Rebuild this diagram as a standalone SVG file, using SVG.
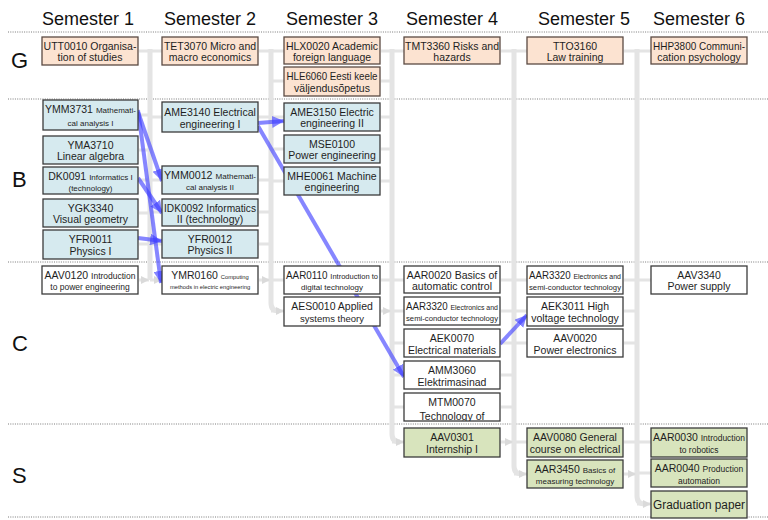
<svg xmlns="http://www.w3.org/2000/svg" width="768" height="520" viewBox="0 0 768 520">
  <style>
    text { font-family: "Liberation Sans", Arial, sans-serif; fill: #1e1e1e; text-anchor: middle; }
    .hd { font-size: 18px; fill: #111; }
    .row { font-size: 22px; text-anchor: start; fill: #111; }
    .t { font-size: 10.5px; }
    .s { font-size: 8px; }
    .m { font-size: 7.5px; }
    .xs { font-size: 5.8px; }
    .sep { stroke: #7a7a7a; stroke-width: 1; stroke-dasharray: 1 1.3; fill: none; }
    .bar { stroke: #e4e4e4; stroke-width: 5; fill: none; stroke-linecap: butt; }
    .gl { stroke: #e4e4e4; stroke-width: 3; fill: none; marker-end: url(#ga); }
    .bl { stroke: #3c3cff; stroke-opacity: 0.62; stroke-width: 4; fill: none; marker-end: url(#ba); }
    rect { stroke: #3b3b3b; stroke-width: 1.3; }
    .G rect { fill: #fce3d1; stroke: #5b4a42; }
    .B rect { fill: #d6eaef; }
    .C rect { fill: #ffffff; }
    .S rect { fill: #d8e4bd; }
  </style>
  <defs>
    <marker id="ga" markerUnits="userSpaceOnUse" markerWidth="9" markerHeight="9" refX="8" refY="4.5" orient="auto">
      <path d="M0,0.5 L8,4.5 L0,8.5 Z" fill="#dadada"/>
    </marker>
    <marker id="ba" markerUnits="userSpaceOnUse" markerWidth="13" markerHeight="12" refX="12" refY="6" orient="auto">
      <path d="M0,0 L12,6 L0,12 Z" fill="#3c3cff" fill-opacity="0.62"/>
    </marker>
    <clipPath id="clipMTM"><rect x="404" y="393" width="96" height="28"/></clipPath>
  </defs>

  <rect x="0" y="0" width="768" height="520" fill="#ffffff" style="stroke:none"/>

  <!-- semester headings -->
  <g id="headings">
    <text class="hd" x="88" y="25">Semester 1</text>
    <text class="hd" x="210" y="25">Semester 2</text>
    <text class="hd" x="332" y="25">Semester 3</text>
    <text class="hd" x="452" y="25">Semester 4</text>
    <text class="hd" x="584" y="25">Semester 5</text>
    <text class="hd" x="699" y="25">Semester 6</text>
  </g>

  <!-- module rows -->
  <g id="rows">
    <path class="sep" d="M8,32 H768 M8,99 H768 M8,262 H768 M8,424 H768 M8,517 H768"/>
    <text class="row" x="11" y="68">G</text>
    <text class="row" x="12" y="187">B</text>
    <text class="row" x="12" y="351">C</text>
    <text class="row" x="12" y="483">S</text>
  </g>

  <!-- connectors -->
  <g id="connectors">
    <!-- grey semester-to-semester flow -->
    <path class="bar" d="M150,49 V280"/>
    <path class="bar" d="M271,49 V303 Q271,311 279,311"/>
    <path class="bar" d="M392,49 V434 Q392,442 400,442"/>
    <path class="bar" d="M514,49 V466 Q514,474 522,474"/>
    <path class="bar" d="M637,49 V496 Q637,504 645,504"/>

    <path class="gl" d="M139,51 H149 M139,115 H149 M139,150 H149 M139,180 H149 M139,213 H149 M139,244 H149 M139,280 H149"/>
    <path class="gl" d="M150,51 H162 M150,117 H162 M150,180 H162 M150,212 H162 M150,244 H162 M150,280 H162"/>
    <path class="gl" d="M259,51 H270 M259,117 H270 M259,180 H270 M259,212 H270 M259,244 H270 M259,280 H270"/>
    <path class="gl" d="M271,51 H284 M271,81 H284 M271,117 H284 M271,149 H284 M271,181 H284 M271,280 H284 M271,311 H284"/>
    <path class="gl" d="M381,51 H391 M381,81 H391 M381,117 H391 M381,149 H391 M381,181 H391 M381,280 H391 M381,311 H391"/>
    <path class="gl" d="M392,51 H404 M392,280 H404 M392,311 H404 M392,343 H404 M392,375 H404 M392,407 H404 M392,442 H404"/>
    <path class="gl" d="M501,51 H513 M501,280 H513 M501,311 H513 M501,343 H513 M501,375 H513 M501,407 H513 M501,442 H513"/>
    <path class="gl" d="M514,51 H527 M514,280 H527 M514,311 H527 M514,343 H527 M514,442 H527 M514,474 H527"/>
    <path class="gl" d="M624,51 H636 M624,280 H636 M624,311 H636 M624,343 H636 M624,442 H636 M624,474 H636"/>
    <path class="gl" d="M637,51 H651 M637,280 H651 M637,442 H651 M637,473 H651 M637,504 H651"/>

    <!-- blue prerequisite links -->
    <path class="bl" d="M138,112 L162,181"/>
    <path class="bl" d="M138,110 L161,283"/>
    <path class="bl" d="M138,178 L162,213"/>
    <path class="bl" d="M138,238 L162,241"/>
    <path class="bl" d="M258,123 L284,121"/>
    <path class="bl" d="M258,126 L404,377"/>
    <path class="bl" d="M500,344 L527,315"/>
  </g>

  <!-- G: general studies -->
  <g id="UTT0010" class="G"><rect x="42" y="37" width="96" height="28"/>
    <text class="t" x="90" y="50">UTT0010 Organisa-</text><text class="t" x="90" y="61">tion of studies</text></g>
  <g id="TET3070" class="G"><rect x="162" y="37" width="96" height="28"/>
    <text class="t" x="210" y="50">TET3070 Micro and</text><text class="t" x="210" y="61">macro economics</text></g>
  <g id="HLX0020" class="G"><rect x="284" y="37" width="96" height="27"/>
    <text class="t" x="332" y="50">HLX0020 Academic</text><text class="t" x="332" y="60.5">foreign language</text></g>
  <g id="HLE6060" class="G"><rect x="284" y="67" width="96" height="29"/>
    <text class="t" x="332" y="80" textLength="91" lengthAdjust="spacingAndGlyphs">HLE6060 Eesti keele</text><text class="t" x="332" y="92">väljendusõpetus</text></g>
  <g id="TMT3360" class="G"><rect x="404" y="37" width="96" height="27"/>
    <text class="t" x="452" y="50">TMT3360 Risks and</text><text class="t" x="452" y="61">hazards</text></g>
  <g id="TTO3160" class="G"><rect x="527" y="37" width="96" height="27"/>
    <text class="t" x="575" y="50">TTO3160</text><text class="t" x="575" y="61">Law training</text></g>
  <g id="HHP3800" class="G"><rect x="651" y="37" width="96" height="27"/>
    <text class="t" x="699" y="50" textLength="92" lengthAdjust="spacingAndGlyphs">HHP3800 Communi-</text><text class="t" x="699" y="61">cation psychology</text></g>

  <!-- B: basic studies -->
  <g id="YMM3731" class="B"><rect x="43" y="100" width="95" height="30"/>
    <text class="t" x="90.5" y="113" textLength="91" lengthAdjust="spacingAndGlyphs">YMM3731 <tspan class="s">Mathemati-</tspan></text><text class="s" x="90.5" y="126">cal analysis I</text></g>
  <g id="YMA3710" class="B"><rect x="43" y="136" width="95" height="28"/>
    <text class="t" x="90.5" y="149">YMA3710</text><text class="t" x="90.5" y="160">Linear algebra</text></g>
  <g id="DK0091" class="B"><rect x="43" y="167" width="95" height="27"/>
    <text class="t" x="90.5" y="180">DK0091 <tspan class="s">Informatics I</tspan></text><text class="s" x="90.5" y="190.5">(technology)</text></g>
  <g id="YGK3340" class="B"><rect x="43" y="199" width="95" height="28"/>
    <text class="t" x="90.5" y="212">YGK3340</text><text class="t" x="90.5" y="223">Visual geometry</text></g>
  <g id="YFR0011" class="B"><rect x="43" y="230" width="95" height="29"/>
    <text class="t" x="90.5" y="243">YFR0011</text><text class="t" x="90.5" y="255">Physics I</text></g>
  <g id="AME3140" class="B"><rect x="162" y="102" width="96" height="30"/>
    <text class="t" x="210" y="116">AME3140 Electrical</text><text class="t" x="210" y="128">engineering I</text></g>
  <g id="YMM0012" class="B"><rect x="162" y="166" width="96" height="28"/>
    <text class="t" x="210" y="179" textLength="92" lengthAdjust="spacingAndGlyphs">YMM0012 <tspan class="s">Mathemati-</tspan></text><text class="s" x="210" y="190">cal analysis II</text></g>
  <g id="IDK0092" class="B"><rect x="162" y="199" width="96" height="27"/>
    <text class="t" x="210" y="212" textLength="92" lengthAdjust="spacingAndGlyphs">IDK0092 Informatics</text><text class="t" x="210" y="223">II (technology)</text></g>
  <g id="YFR0012" class="B"><rect x="162" y="230" width="96" height="28"/>
    <text class="t" x="210" y="243">YFR0012</text><text class="t" x="210" y="254">Physics II</text></g>
  <g id="AME3150" class="B"><rect x="284" y="103" width="96" height="28"/>
    <text class="t" x="332" y="116">AME3150  Electric</text><text class="t" x="332" y="127">engineering II</text></g>
  <g id="MSE0100" class="B"><rect x="284" y="135" width="96" height="28"/>
    <text class="t" x="332" y="148">MSE0100</text><text class="t" x="332" y="159">Power engineering</text></g>
  <g id="MHE0061" class="B"><rect x="284" y="167" width="96" height="28"/>
    <text class="t" x="332" y="180">MHE0061 Machine</text><text class="t" x="332" y="191">engineering</text></g>

  <!-- C: core studies -->
  <g id="AAV0120" class="C"><rect x="42" y="266" width="96" height="28"/>
    <text class="t" x="90" y="279">AAV0120 <tspan font-size="8.5px">Introduction</tspan></text><text x="90" y="290" font-size="8.5px">to power engineering</text></g>
  <g id="YMR0160" class="C"><rect x="162" y="266" width="96" height="28"/>
    <text class="t" x="210" y="279">YMR0160 <tspan class="xs">Computing</tspan></text><text class="xs" x="210" y="289">methods in electric engineering</text></g>
  <g id="AAR0110" class="C"><rect x="284" y="266" width="96" height="28"/>
    <text class="t" x="332" y="279" textLength="92" lengthAdjust="spacingAndGlyphs">AAR0110 <tspan class="s">Introduction to</tspan></text><text class="s" x="332" y="289.5">digital technology</text></g>
  <g id="AES0010" class="C"><rect x="284" y="297" width="96" height="29"/>
    <text class="t" x="332" y="310">AES0010  Applied</text><text x="332" y="321.5" font-size="9.5px">systems theory</text></g>
  <g id="AAR0020" class="C"><rect x="404" y="266" width="96" height="27"/>
    <text class="t" x="452" y="279">AAR0020 Basics of</text><text class="t" x="452" y="290">automatic control</text></g>
  <g id="AAR3320-4" class="C"><rect x="404" y="297" width="96" height="28"/>
    <text class="t" x="452" y="310" textLength="92" lengthAdjust="spacingAndGlyphs">AAR3320 <tspan class="m">Electronics and</tspan></text><text class="m" x="452" y="320.5" textLength="92" lengthAdjust="spacingAndGlyphs">semi-conductor technology</text></g>
  <g id="AEK0070" class="C"><rect x="404" y="329" width="96" height="28"/>
    <text class="t" x="452" y="342">AEK0070</text><text class="t" x="452" y="353.5">Electrical materials</text></g>
  <g id="AMM3060" class="C"><rect x="404" y="361" width="96" height="28"/>
    <text class="t" x="452" y="374">AMM3060</text><text class="t" x="452" y="385.5">Elektrimasinad</text></g>
  <g id="MTM0070" class="C"><rect x="404" y="393" width="96" height="28"/>
    <g clip-path="url(#clipMTM)"><text class="t" x="452" y="406">MTM0070</text><text class="t" x="452" y="420">Technology of</text></g></g>
  <g id="AAR3320-5" class="C"><rect x="527" y="266" width="96" height="28"/>
    <text class="t" x="575" y="279" textLength="92" lengthAdjust="spacingAndGlyphs">AAR3320 <tspan class="m">Electronics and</tspan></text><text class="m" x="575" y="289.5" textLength="92" lengthAdjust="spacingAndGlyphs">semi-conductor technology</text></g>
  <g id="AEK3011" class="C"><rect x="527" y="297" width="96" height="29"/>
    <text class="t" x="575" y="310">AEK3011 High</text><text class="t" x="575" y="322">voltage technology</text></g>
  <g id="AAV0020" class="C"><rect x="527" y="329" width="96" height="28"/>
    <text class="t" x="575" y="342">AAV0020</text><text class="t" x="575" y="353.5">Power electronics</text></g>
  <g id="AAV3340" class="C"><rect x="651" y="266" width="96" height="28"/>
    <text class="t" x="699" y="279">AAV3340</text><text class="t" x="699" y="290">Power supply</text></g>

  <!-- S: special studies -->
  <g id="AAV0301" class="S"><rect x="404" y="428" width="96" height="29"/>
    <text class="t" x="452" y="441">AAV0301</text><text class="t" x="452" y="453">Internship I</text></g>
  <g id="AAV0080" class="S"><rect x="527" y="428" width="96" height="29"/>
    <text class="t" x="575" y="441">AAV0080 General</text><text class="t" x="575" y="453">course on electrical</text></g>
  <g id="AAR3450" class="S"><rect x="527" y="460" width="96" height="28"/>
    <text class="t" x="575" y="473">AAR3450 <tspan class="s">Basics of</tspan></text><text class="s" x="575" y="484">measuring technology</text></g>
  <g id="AAR0030" class="S"><rect x="651" y="428" width="96" height="29"/>
    <text class="t" x="699" y="441" textLength="92" lengthAdjust="spacingAndGlyphs">AAR0030 <tspan font-size="8.5px">Introduction</tspan></text><text x="699" y="452.5" font-size="8.5px">to robotics</text></g>
  <g id="AAR0040" class="S"><rect x="651" y="459" width="96" height="28"/>
    <text class="t" x="699" y="472">AAR0040 <tspan font-size="8.5px">Production</tspan></text><text x="699" y="483.5" font-size="8.5px">automation</text></g>
  <g id="Graduation" class="S"><rect x="651" y="491" width="96" height="27"/>
    <text x="699" y="509" font-size="12.5px" textLength="92" lengthAdjust="spacingAndGlyphs">Graduation paper</text></g>
</svg>
